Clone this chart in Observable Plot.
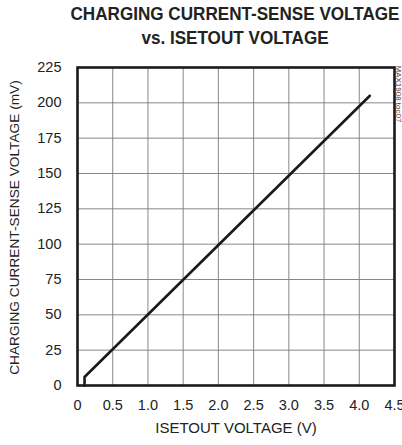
<!DOCTYPE html>
<html>
<head>
<meta charset="utf-8">
<script src="https://cdn.jsdelivr.net/npm/d3@7"></script>
<script src="https://cdn.jsdelivr.net/npm/@observablehq/plot@0.6"></script>
<style>
  html, body { margin: 0; padding: 0; background: #fff; }
  #title {
    position: relative; width: 402px; height: 52px;
    font-family: "Liberation Sans", Arial, sans-serif;
    font-weight: bold; font-size: 18px; line-height: 23.5px; color: #222;
  }
  #title span {
    position: absolute; left: 235px; top: 3px; white-space: nowrap; text-align: center;
    transform: translateX(-50%) scaleX(0.95);
  }
  #chart { line-height: 0; }
</style>
</head>
<body>
<div id="title"><span>CHARGING CURRENT-SENSE VOLTAGE<br>vs. ISETOUT VOLTAGE</span></div>
<div id="chart"></div>
<script>
const isetoutV = [0.1, 0.1, 4.15];
const senseMV = [0, 6, 205];
const xTicks = [0, 0.5, 1.0, 1.5, 2.0, 2.5, 3.0, 3.5, 4.0, 4.5];
const yTicks = [0, 25, 50, 75, 100, 125, 150, 175, 200, 225];
const xTickLabels = ["0", "0.5", "1.0", "1.5", "2.0", "2.5", "3.0", "3.5", "4.0", "4.5"];
const xLabel = "ISETOUT VOLTAGE (V)";
const yLabel = "CHARGING CURRENT-SENSE VOLTAGE (mV)";
const figCode = "MAX1908 toc07";

const data = isetoutV.map((v, i) => ({v, mv: senseMV[i]}));

const chart = Plot.plot({
  width: 402,
  height: 393,
  marginTop: 15,
  marginBottom: 60,
  marginLeft: 77,
  marginRight: 8,
  style: {fontFamily: "'Liberation Sans', Arial, sans-serif", fontSize: "14.5px", color: "#222", background: "#fff"},
  x: {domain: [0, 4.5]},
  y: {domain: [0, 225]},
  marks: [
    Plot.gridX(xTicks, {stroke: "#7a7a7a", strokeOpacity: 1, strokeWidth: 0.9}),
    Plot.gridY(yTicks, {stroke: "#7a7a7a", strokeOpacity: 1, strokeWidth: 0.9}),
    Plot.axisX({ticks: xTicks, tickFormat: (d, i) => xTickLabels[i], tickSize: 0, tickPadding: 14, label: null, fontSize: 14.5}),
    Plot.axisY({ticks: yTicks, tickSize: 0, tickPadding: 16, label: null, fontSize: 14.5}),
    Plot.text([xLabel], {frameAnchor: "bottom", text: d => d, dy: 43, textAnchor: "middle", lineAnchor: "middle", fontSize: 15, fill: "#222"}),
    Plot.text([yLabel], {frameAnchor: "left", text: d => d, rotate: -90, dx: -63, dy: 1, textAnchor: "middle", lineAnchor: "middle", fontSize: 13.7, fill: "#222"}),
    Plot.line(data, {x: "v", y: "mv", stroke: "#1a1a1a", strokeWidth: 2.6}),
    Plot.frame({stroke: "#1a1a1a", strokeWidth: 2.6}),
    Plot.text([figCode], {frameAnchor: "top-right", text: d => d, rotate: 90, textAnchor: "start", lineAnchor: "middle", dx: 4, dy: -2, fontSize: 8, fill: "#444"})
  ]
});
document.getElementById("chart").appendChild(chart);
</script>
</body>
</html>
